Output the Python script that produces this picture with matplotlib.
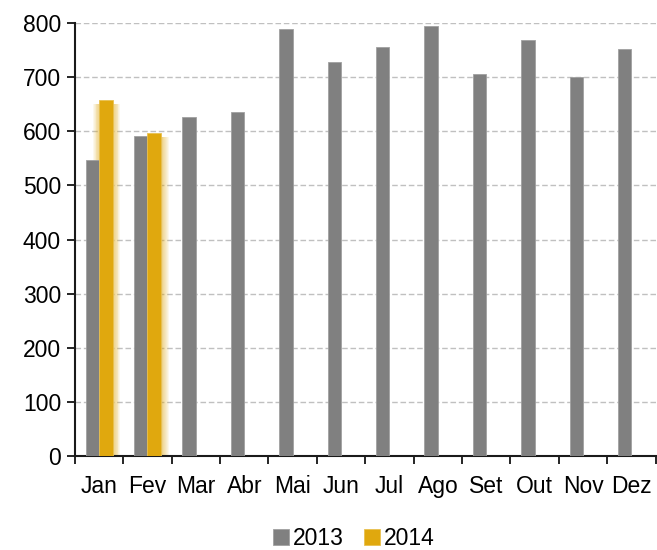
import numpy as np
import matplotlib.pyplot as plt

plt.rcParams['font.family'] = ['Liberation Sans', 'DejaVu Sans']

months = ['Jan', 'Fev', 'Mar', 'Abr', 'Mai', 'Jun', 'Jul', 'Ago', 'Set', 'Out', 'Nov', 'Dez']
vals_2013 = [547, 591, 626, 636, 789, 728, 756, 795, 706, 769, 700, 753]
vals_2014 = [658, 597]

gray = '#808080'
gold = '#E0A80E'

fig = plt.figure(figsize=(6.57, 5.5), dpi=100)
ax = fig.add_axes([0.114, 0.171, 0.884, 0.787])

x = np.arange(len(months))
w = 0.28
ax.bar(x - w / 2, vals_2013, w, color=gray, edgecolor='#a0a0a0', linewidth=0.6,
       label='2013', zorder=3)

# soft glow around the 2014 bars
x14 = np.arange(len(vals_2014))
for k in range(8):
    ax.bar(x14 + w / 2 + 0.015, np.array(vals_2014) - 8, w + 0.035 * (k + 1), color=gold,
           alpha=0.08, linewidth=0, zorder=2)
ax.bar(x14 + w / 2, vals_2014, w, color=gold, edgecolor='#e8c050', linewidth=0.6,
       label='2014', zorder=4)

ax.set_xlim(-0.5, len(months) - 0.5)
ax.set_ylim(0, 800)
ax.set_yticks(range(0, 801, 100))
ax.yaxis.grid(True, linestyle=(0, (4, 2)), color='#c0c0c0', linewidth=1, zorder=0)
ax.set_axisbelow(True)

ax.set_xticks(x)
ax.set_xticklabels(months)
ax.set_xticks(np.arange(-0.5, len(months), 1), minor=True)
ax.tick_params(axis='x', which='major', length=0, pad=14, labelsize=16.5)
ax.tick_params(axis='x', which='minor', length=6, width=1.2, direction='out')
ax.tick_params(axis='y', length=6, width=1.2, labelsize=16.5, pad=4)

for s in ['top', 'right']:
    ax.spines[s].set_visible(False)
for s in ['left', 'bottom']:
    ax.spines[s].set_linewidth(1.5)
    ax.spines[s].set_color('#1a1a1a')

ax.legend(loc='center', bbox_to_anchor=(0.48, -0.19), ncol=2, frameon=False,
          fontsize=16.5, handlelength=0.7, handleheight=0.7, handletextpad=0.15,
          columnspacing=0.9, borderpad=0)

fig.savefig('out.png', dpi=100)
